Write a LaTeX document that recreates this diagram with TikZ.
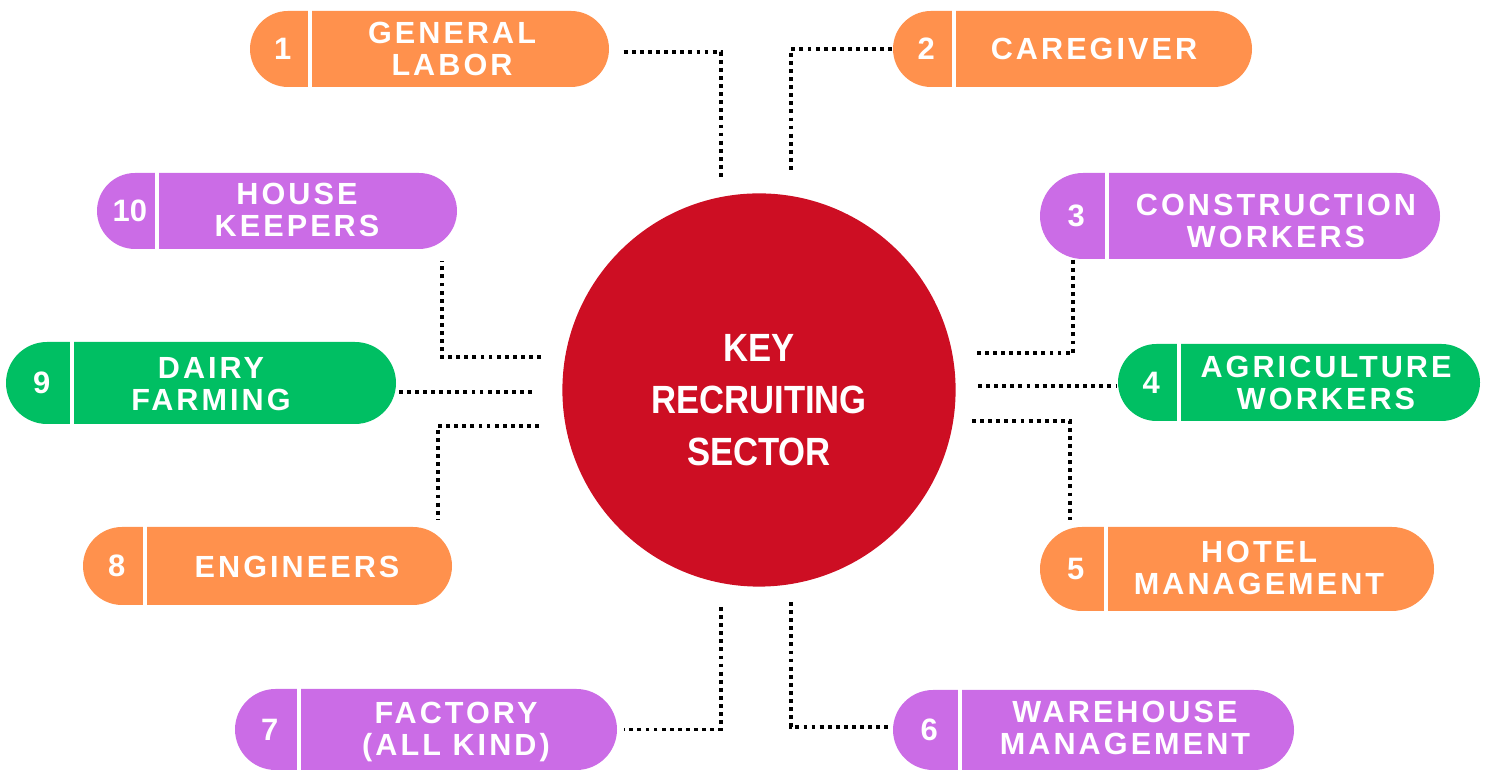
\documentclass[tikz,border=0pt]{standalone}
\usepackage{fontspec}
\setmainfont{Liberation Sans}
\newfontfamily\pillfont[LetterSpace=10]{Liberation Sans}
\newfontfamily\keyfont[FakeStretch=0.88]{Liberation Sans}
\usetikzlibrary{calc}

\definecolor{orangeC}{HTML}{FF914D}
\definecolor{violetC}{HTML}{CB6CE6}
\definecolor{greenC}{HTML}{00BF63}
\definecolor{redC}{HTML}{CD0E23}

\tikzset{
  pill/.style={rectangle, draw=none, inner sep=0pt},
  num/.style={text=white, inner sep=0pt, font=\bfseries\fontsize{8.8}{9}\selectfont},
  lbl/.style={text=white, align=center, inner sep=0pt, font=\pillfont\bfseries\fontsize{8.7}{9.1}\selectfont},
  sep/.style={white, line width=1.2pt},
  link/.style={line width=1.1pt, dash pattern=on 1.1pt off 1.2pt}
}

\begin{document}
\begin{tikzpicture}[x=0.01cm, y=-0.01cm]
\useasboundingbox (0,0) rectangle (1491,771);

% centre
\node[circle, fill=redC, minimum size=3.93cm, inner sep=0pt] (key) at (759,390) {};
\node[text=white, align=center, font=\keyfont\bfseries\fontsize{11.2}{14.8}\selectfont] (keytxt) at (759,400) {KEY\\RECRUITING\\SECTOR};

% sectors
\foreach \n/\cx/\cy/\w/\h/\dv/\col/\tx/\ty/\txt [evaluate=\h as \r using \h*0.005] in {
  1/429.5/49/359/76/61/orangeC/452/49/{GENERAL\\LABOR},
  2/1072.5/49/359/76/62/orangeC/1094/49/{CAREGIVER},
  3/1240/216/400/86/68/violetC/1276/221/{CONSTRUCTION\\WORKERS},
  4/1299/382.5/362/77/62/greenC/1326/383/{AGRICULTURE\\WORKERS},
  5/1237/569/394/84/67/orangeC/1259/568/{HOTEL\\MANAGEMENT},
  6/1093.5/730/401/80/68/violetC/1125/728/{WAREHOUSE\\MANAGEMENT},
  7/426/729.5/382/81/65/violetC/456/732/{FACTORY\\(ALL KIND)},
  8/267.5/566/369/78/63/orangeC/297/567/{ENGINEERS},
  9/201/383/390/82/67/greenC/211/384/{DAIRY\\FARMING},
  10/277/211/360/76/61/violetC/297/210/{HOUSE\\KEEPERS}}
{
  \node[pill, fill=\col, minimum width=\w*0.01cm, minimum height=\h*0.01cm, rounded corners=\r cm] (p\n) at (\cx,\cy) {};
  \draw[sep] ($(p\n.north west)+(\dv,0)$) -- ($(p\n.south west)+(\dv,0)$);
  \node[num] (n\n) at ($(p\n.west)+(\dv/2+3,0)$) {\n};
  \node[lbl] (t\n) at (\tx,\ty) {\txt};
}

% ends at the circle
\coordinate (c1) at ($(key)+(-38,-213)$);
\coordinate (c2) at ($(key)+(32,-218)$);
\coordinate (c3) at ($(key)+(216,-37)$);
\coordinate (c4) at ($(key)+(219,-4)$);
\coordinate (c5) at ($(key)+(213,31)$);
\coordinate (c6) at ($(key)+(32,212)$);
\coordinate (c7) at ($(key)+(-38,217)$);
\coordinate (c8) at ($(key)+(-220,36)$);
\coordinate (c9) at ($(key)+(-227,2)$);
\coordinate (c10) at ($(key)+(-218,-33)$);

\draw[link] ($(p1.east)+(14,3)$) -| (c1);
\draw[link] (p2.west) -| (c2);
\draw[link] ($(p3.south west)+(34,0)$) |- (c3);
\draw[link] (c4) -- (c4 -| p4.west);
\draw[link] (c5) -| ($(p5.north west)+(31,-6)$);
\draw[link] (c6) |- ($(p6.west)+(0,-3)$);
\draw[link] (c7) |- ($(p7.east)+(6,0)$);
\draw[link] (c8) -| ($(p8.north east)+(-15,-7)$);
\draw[link] (c9) -- (c9 -| p9.east);
\draw[link] (c10) -| ($(p10.south east)+(-16,11)$);
\end{tikzpicture}
\end{document}
